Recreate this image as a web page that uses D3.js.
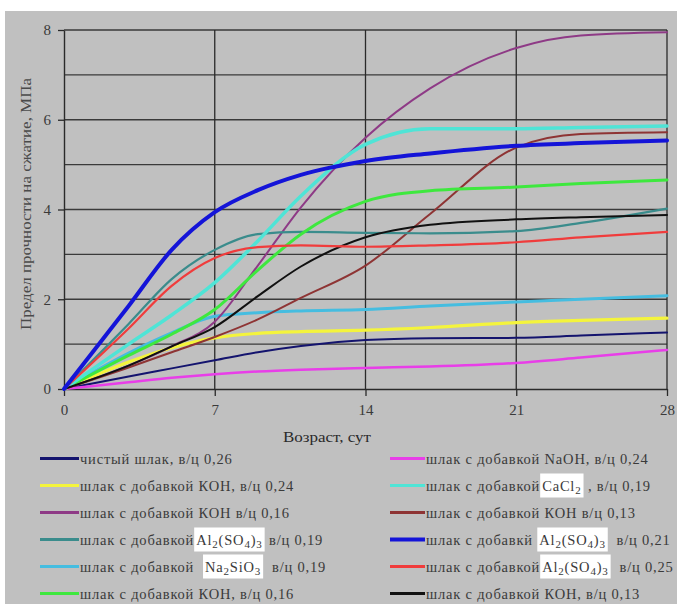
<!DOCTYPE html>
<html><head><meta charset="utf-8">
<script src="https://cdn.jsdelivr.net/npm/d3@7"></script>
<style>
html,body{margin:0;padding:0;background:#fff;}
svg{display:block;}
text{font-family:"Liberation Serif","Times New Roman",serif;}
</style></head>
<body><div id="chart"></div>
<script>
// ---- data ----
const days = [0, 3, 5, 7, 9, 11, 14, 17, 21, 24, 28];
const pureSlag026   = [0, 0.28, 0.46, 0.64, 0.82, 0.96, 1.09, 1.13, 1.14, 1.19, 1.26];
const koh024        = [0, 0.60, 0.92, 1.14, 1.24, 1.28, 1.31, 1.37, 1.48, 1.53, 1.58];
const koh016a       = [0, 0.52, 0.95, 1.50, 2.75, 4.05, 5.60, 6.70, 7.60, 7.88, 7.95];
const al2so4_019    = [0, 1.45, 2.45, 3.10, 3.45, 3.50, 3.48, 3.47, 3.52, 3.70, 4.02];
const na2sio3_019   = [0, 0.80, 1.25, 1.62, 1.70, 1.74, 1.77, 1.85, 1.94, 2.00, 2.08];
const koh016b       = [0, 0.75, 1.22, 1.77, 2.65, 3.45, 4.18, 4.42, 4.50, 4.58, 4.66];
const naoh024       = [0, 0.15, 0.25, 0.33, 0.39, 0.43, 0.47, 0.50, 0.58, 0.70, 0.87];
const cacl2_019     = [0, 1.00, 1.65, 2.37, 3.30, 4.30, 5.45, 5.80, 5.80, 5.83, 5.86];
const koh013a       = [0, 0.48, 0.82, 1.16, 1.55, 2.03, 2.75, 3.90, 5.38, 5.68, 5.72];
const al2so4_021    = [0, 1.85, 3.10, 3.94, 4.43, 4.77, 5.08, 5.25, 5.42, 5.48, 5.54];
const al2so4_025    = [0, 1.35, 2.30, 2.92, 3.16, 3.20, 3.17, 3.20, 3.27, 3.38, 3.50];
const koh013b       = [0, 0.52, 0.95, 1.38, 2.07, 2.73, 3.38, 3.66, 3.78, 3.83, 3.88];

const seriesValues = [pureSlag026, koh024, koh016a, al2so4_019, na2sio3_019, koh016b,
                      naoh024, cacl2_019, koh013a, al2so4_021, al2so4_025, koh013b];
const seriesLabels = [
  "чистый шлак, в/ц 0,26",
  "шлак с добавкой КОН, в/ц 0,24",
  "шлак с добавкой КОН в/ц 0,16",
  "шлак с добавкой{Al_2(SO_4)_3} в/ц 0,19",
  "шлак с добавкой  {Na_2SiO_3}  в/ц 0,19",
  "шлак с добавкой КОН, в/ц 0,16",
  "шлак с добавкой NaOH, в/ц 0,24",
  "шлак с добавкой{CaCl_2} , в/ц 0,19",
  "шлак с добавкой КОН в/ц 0,13",
  "шлак с добавкй {Al_2(SO_4)_3}  в/ц 0,21",
  "шлак с добавкой{Al_2(SO_4)_3}  в/ц 0,25",
  "шлак с добавкой КОН, в/ц 0,13"
];
const seriesColors = ["#14146e", "#f4f43c", "#8e3a86", "#3a8c8c", "#45bde0", "#3ee83e",
                      "#e83ee8", "#4fe4d6", "#8e3434", "#1414d8", "#f03c3c", "#111111"];
const seriesWidths = [2, 3.2, 2, 2.2, 3, 3, 2.5, 3.5, 2, 4, 2.2, 2];
const drawOrder = [0, 6, 1, 4, 2, 8, 3, 5, 7, 11, 10, 9];
const xTicks = [0, 7, 14, 21, 28];
const yTicks = [0, 2, 4, 6, 8];
const yGrid = [1, 2, 3, 4, 5, 6, 7, 8];
const xTitle = "Возраст, сут";
const yTitle = "Предел прочности на сжатие, МПа";

// ---- drawing ----
const W = 677, H = 604;
const svg = d3.select("#chart").append("svg").attr("width", W).attr("height", H);
svg.append("rect").attr("width", W).attr("height", H).attr("fill", "#fff");
svg.append("rect").attr("x", 5).attr("y", 11).attr("width", W - 5).attr("height", H - 11).attr("fill", "#c0c0c0");

const x = d3.scaleLinear().domain([0, 28]).range([64, 667]);
const y = d3.scaleLinear().domain([0, 8]).range([389, 30]);

const grid = svg.append("g");
grid.selectAll("line.h").data(yGrid).join("line")
  .attr("x1", x(0)).attr("x2", x(28)).attr("y1", d => y(d)).attr("y2", d => y(d))
  .attr("stroke", "#3a3a3a").attr("stroke-width", 1.3);
grid.selectAll("line.v").data(xTicks.slice(1)).join("line")
  .attr("x1", d => x(d)).attr("x2", d => x(d)).attr("y1", y(8)).attr("y2", y(0))
  .attr("stroke", "#2a2a2a").attr("stroke-width", 1.3);

const yAxis = svg.append("g").attr("transform", `translate(${x(0)},0)`)
  .call(d3.axisLeft(y).tickValues(yTicks).tickSize(6).tickPadding(7).tickSizeOuter(0));
const xAxis = svg.append("g").attr("transform", `translate(0,${y(0)})`)
  .call(d3.axisBottom(x).tickValues(xTicks).tickSize(7).tickPadding(8).tickSizeOuter(0));
[yAxis, xAxis].forEach(a => {
  a.select(".domain").attr("stroke", "#2a2a2a").attr("stroke-width", 1.4);
  a.selectAll(".tick line").attr("stroke", "#2a2a2a").attr("stroke-width", 1.3);
  a.selectAll(".tick text").attr("fill", "#3a3a3a").attr("font-size", 15)
    .style("font-family", '"Liberation Serif", serif');
});

const line = d3.line().x((d, i) => x(days[i])).y(d => y(d)).curve(d3.curveMonotoneX);
const plot = svg.append("g");
drawOrder.forEach(i => {
  plot.append("path").attr("d", line(seriesValues[i])).attr("fill", "none")
    .attr("stroke", seriesColors[i]).attr("stroke-width", seriesWidths[i])
    .attr("stroke-linejoin", "round").attr("stroke-linecap", "round");
});

svg.append("text").attr("transform", "translate(31,204) rotate(-90)")
  .attr("text-anchor", "middle").attr("font-size", 15).attr("fill", "#4a4a4a")
  .attr("textLength", 252).attr("lengthAdjust", "spacingAndGlyphs").text(yTitle);
svg.append("text").attr("x", 327).attr("y", 442).attr("text-anchor", "middle")
  .attr("font-size", 15).attr("fill", "#2a2a2a")
  .attr("textLength", 88).attr("lengthAdjust", "spacingAndGlyphs").text(xTitle);

// legend
const LFS = 14.5, LSP = 0.8;
function parseLabel(s) {
  const parts = [];
  const re = /\{([^}]*)\}/g;
  let last = 0, m;
  while ((m = re.exec(s))) {
    if (m.index > last) parts.push({ t: s.slice(last, m.index), f: false });
    parts.push({ t: m[1], f: true });
    last = re.lastIndex;
  }
  if (last < s.length) parts.push({ t: s.slice(last), f: false });
  return parts;
}
function addFormula(textSel, s) {
  const toks = s.split(/(_\d)/).filter(t => t.length);
  let shift = 0;
  toks.forEach(t => {
    if (t[0] === "_") {
      textSel.append("tspan").attr("font-size", 11).attr("dy", 3 - shift).text(t[1]);
      shift = 3;
    } else {
      textSel.append("tspan").attr("font-size", LFS).attr("dy", -shift).text(t);
      shift = 0;
    }
  });
}
const legend = svg.append("g");
seriesLabels.forEach((lab, i) => {
  const col = Math.floor(i / 6), row = i % 6;
  const cy = 458.5 + row * 27;
  const lx0 = col === 0 ? 40 : 390, lx1 = col === 0 ? 79 : 425;
  legend.append("line").attr("x1", lx0).attr("x2", lx1).attr("y1", cy).attr("y2", cy)
    .attr("stroke", seriesColors[i]).attr("stroke-width", i === 9 ? 4 : 3);
  let cx = lx1 + 1;
  parseLabel(lab).forEach(p => {
    if (p.f) {
      const g = legend.append("g");
      const bg = g.append("rect").attr("fill", "#fff");
      const t = g.append("text").attr("x", cx + 2).attr("y", cy + 5).attr("fill", "#3a3a3a")
        .attr("letter-spacing", LSP);
      addFormula(t, p.t);
      const w = t.node().getComputedTextLength();
      bg.attr("x", cx).attr("y", cy - 12).attr("width", w + 4).attr("height", 24);
      cx += w + 4;
    } else {
      const t = legend.append("text").attr("x", cx).attr("y", cy + 5)
        .attr("font-size", LFS).attr("fill", "#3a3a3a").attr("letter-spacing", LSP)
        .attr("xml:space", "preserve").text(p.t);
      cx += t.node().getComputedTextLength();
    }
  });
});
</script>
</body></html>
